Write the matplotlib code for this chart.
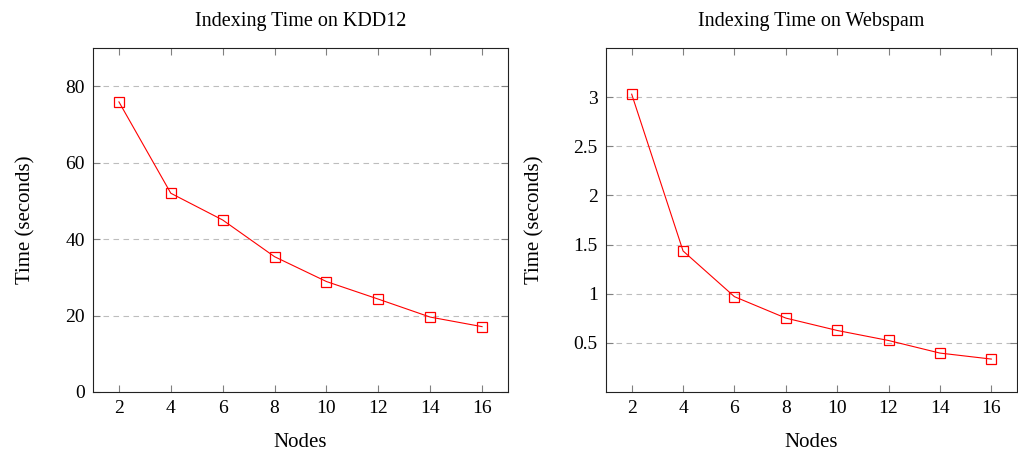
import matplotlib.pyplot as plt

plt.rcParams['font.family'] = ['Liberation Serif', 'DejaVu Serif']

# Data
nodes = [2, 4, 6, 8, 10, 12, 14, 16]
kdd12_time = [75.9, 52.0, 45.0, 35.4, 28.9, 24.3, 19.6, 17.1]
webspam_time = [3.03, 1.435, 0.97, 0.752, 0.626, 0.524, 0.396, 0.335]

kdd12_yticks = [0, 20, 40, 60, 80]
webspam_yticks = [0.5, 1, 1.5, 2, 2.5, 3]
webspam_ylabels = ["0.5", "1", "1.5", "2", "2.5", "3"]

fig = plt.figure(figsize=(10.18, 4.55), dpi=100)
ax1 = fig.add_axes([93 / 1018, 1 - 392 / 455, 415 / 1018, 344 / 455])
ax2 = fig.add_axes([606 / 1018, 1 - 392 / 455, 411 / 1018, 344 / 455])


def style(ax, title, ys, yticks, ylim, ylabels=None):
    ax.plot(nodes, ys, color="red", linewidth=0.8, marker="s", markersize=7.5,
            markerfacecolor="none", markeredgecolor="red", markeredgewidth=0.9)
    ax.set_xlim(1, 17)
    ax.set_ylim(*ylim)
    ax.set_xticks(nodes)
    ax.set_yticks(yticks)
    if ylabels is not None:
        ax.set_yticklabels(ylabels)
    ax.yaxis.grid(True, linestyle=(0, (5, 4)), color="#bdbdbd", linewidth=0.8)
    ax.set_axisbelow(True)
    ax.tick_params(direction="in", length=5, width=0.8, color="#808080",
                   labelsize=14, top=True, right=True, pad=6)
    for s in ax.spines.values():
        s.set_linewidth(0.8)
        s.set_color("#222222")
    ax.set_title(title, fontsize=14.5, pad=16)
    ax.set_xlabel("Nodes", fontsize=15, labelpad=11)
    ax.set_ylabel("Time (seconds)", fontsize=15, labelpad=21)


style(ax1, "Indexing Time on KDD12", kdd12_time, kdd12_yticks, (0, 90))
style(ax2, "Indexing Time on Webspam", webspam_time, webspam_yticks, (0, 3.5),
      webspam_ylabels)

fig.savefig("out.png", dpi=100)
